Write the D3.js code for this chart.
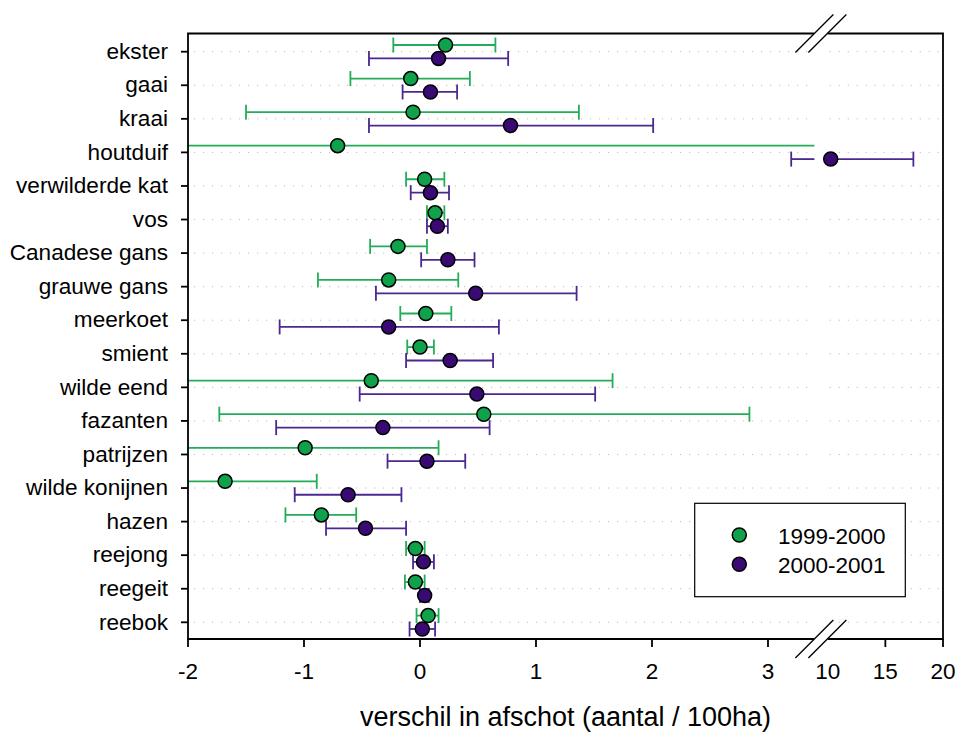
<!DOCTYPE html>
<html><head><meta charset="utf-8">
<script src="https://cdn.jsdelivr.net/npm/d3@7"></script>
<style>body{margin:0;background:#fff}svg{display:block}text{font-family:"Liberation Sans",Arial,sans-serif;fill:#000}</style>
</head><body>
<svg id="c" width="956" height="733"></svg>
<script>
const categories = ["ekster","gaai","kraai","houtduif","verwilderde kat","vos","Canadese gans","grauwe gans","meerkoet","smient","wilde eend","fazanten","patrijzen","wilde konijnen","hazen","reejong","reegeit","reebok"];
const est1999 = [0.22,-0.08,-0.06,-0.71,0.04,0.13,-0.19,-0.27,0.05,0.00,-0.42,0.55,-0.99,-1.68,-0.85,-0.04,-0.04,0.07];
const lo1999  = [-0.23,-0.60,-1.50,-6.4,-0.12,0.06,-0.43,-0.88,-0.17,-0.11,-2.50,-1.73,-2.14,-2.47,-1.16,-0.12,-0.13,-0.03];
const hi1999  = [0.65,0.43,1.37,5.0,0.21,0.21,0.06,0.33,0.27,0.12,1.66,2.84,0.16,-0.89,-0.55,0.04,0.04,0.16];
const est2000 = [0.16,0.09,0.78,10.26,0.09,0.15,0.24,0.48,-0.27,0.26,0.49,-0.32,0.06,-0.62,-0.47,0.03,0.04,0.02];
const lo2000  = [-0.44,-0.15,-0.44,3.20,-0.08,0.06,0.01,-0.38,-1.21,-0.12,-0.52,-1.24,-0.28,-1.08,-0.81,-0.06,0.00,-0.09];
const hi2000  = [0.76,0.32,2.01,17.43,0.25,0.24,0.47,1.35,0.68,0.63,1.51,0.60,0.39,-0.16,-0.12,0.12,0.075,0.13];
const seriesNames = ["1999-2000","2000-2001"];
const leftTicks = [-2,-1,0,1,2,3];
const rightTicks = [10,15,20];

const colFill = ["#10a24a","#3a0a74"];
const colLine = ["#24ad58","#4b2890"];

const L = 188, R = 943, T = 33.5, B = 639;
const breakL = 814, breakR = 827.7;
const leftDom = [-2, 3.4], rightDom = [10, 20];
const xl = d3.scaleLinear().domain(leftDom).range([L, L + 116*5.4]);
const xr = d3.scaleLinear().domain(rightDom).range([breakR, R]);
const y = d3.scalePoint().domain(categories).range([51.7, 622.3]);
const off = [-6.7, 6.7];
function xp(v){ return v <= leftDom[1] ? xl(v) : xr(v); }

const svg = d3.select("#c");

// gridlines
const grid = svg.append("g");
categories.forEach(c=>{
  [[L+6, breakL-2],[breakR+2, R-2]].forEach(([a,b])=>{
    grid.append("line").attr("x1",a).attr("x2",b).attr("y1",y(c)).attr("y2",y(c))
      .attr("stroke","#bdbdbd").attr("stroke-width",1).attr("stroke-dasharray","1.2,7.8");
  });
});

// error bars and points
const series = [
  {est:est1999, lo:lo1999, hi:hi1999},
  {est:est2000, lo:lo2000, hi:hi2000}
];
const marks = svg.append("g");
series.forEach((s,si)=>{
  categories.forEach((c,i)=>{
    const yy = y(c) + off[si];
    const lo = s.lo[i], hi = s.hi[i];
    [[leftDom, xl],[rightDom, xr]].forEach(([dom, sc])=>{
      const a = Math.max(lo, dom[0]), b = Math.min(hi, dom[1]);
      if (a < b) {
        marks.append("line").attr("x1",sc(a)).attr("x2",sc(b)).attr("y1",yy).attr("y2",yy)
          .attr("stroke",colLine[si]).attr("stroke-width",1.8);
      }
      [lo,hi].forEach(v=>{
        if (v >= dom[0] && v <= dom[1]) {
          marks.append("line").attr("x1",sc(v)).attr("x2",sc(v)).attr("y1",yy-7.5).attr("y2",yy+7.5)
            .attr("stroke",colLine[si]).attr("stroke-width",1.8);
        }
      });
    });
  });
});
series.forEach((s,si)=>{
  categories.forEach((c,i)=>{
    marks.append("circle").attr("cx",xp(s.est[i])).attr("cy",y(c)+off[si]).attr("r",7)
      .attr("fill",colFill[si]).attr("stroke","#000").attr("stroke-width",1.5);
  });
});

// box with breaks
const box = svg.append("g").attr("fill","none").attr("stroke","#000").attr("stroke-width",1.8);
box.append("path").attr("d",`M${breakL},${T}H${L}V${B}H${breakL}`);
box.append("path").attr("d",`M${breakR},${T}H${R}V${B}H${breakR}`);
[T,B].forEach(yy=>{
  [-6.5, 6.5].forEach(dx=>{
    const cx = (breakL+breakR)/2 + dx;
    box.append("line").attr("x1",cx-19).attr("y1",yy+19).attr("x2",cx+19).attr("y2",yy-19)
      .attr("stroke-width",1.3);
  });
});

// y axis
const yAxis = svg.append("g");
categories.forEach(c=>{
  yAxis.append("line").attr("x1",L-7).attr("x2",L).attr("y1",y(c)).attr("y2",y(c)).attr("stroke","#000").attr("stroke-width",1.8);
  yAxis.append("text").attr("x",168).attr("y",y(c)).attr("dy","0.32em").attr("text-anchor","end")
    .attr("font-size",22.6).text(c);
});

// x axis
const xAxis = svg.append("g");
leftTicks.forEach(t=>{
  xAxis.append("line").attr("x1",xl(t)).attr("x2",xl(t)).attr("y1",B).attr("y2",B+8).attr("stroke","#000").attr("stroke-width",1.8);
  xAxis.append("text").attr("x",xl(t)).attr("y",679).attr("text-anchor","middle").attr("font-size",22.5).text(t<0?"-"+Math.abs(t):t);
});
rightTicks.forEach(t=>{
  if (t !== 10) xAxis.append("line").attr("x1",xr(t)).attr("x2",xr(t)).attr("y1",B).attr("y2",B+8).attr("stroke","#000").attr("stroke-width",1.8);
  xAxis.append("text").attr("x",xr(t)).attr("y",679).attr("text-anchor","middle").attr("font-size",22.5).text(t);
});
svg.append("text").attr("x",(L+R)/2).attr("y",726).attr("text-anchor","middle").attr("font-size",27)
  .text("verschil in afschot (aantal / 100ha)");

// legend
const lg = svg.append("g");
lg.append("rect").attr("x",694.7).attr("y",503.3).attr("width",210.6).attr("height",93.4)
  .attr("fill","#fff").attr("stroke","#000").attr("stroke-width",1.2);
seriesNames.forEach((n,i)=>{
  const yy = 535 + i*29.3;
  lg.append("circle").attr("cx",739.3).attr("cy",yy).attr("r",7).attr("fill",colFill[i]).attr("stroke","#000").attr("stroke-width",1.5);
  lg.append("text").attr("x",778).attr("y",yy+9).attr("font-size",22.5).text(n);
});
</script>
</body></html>
